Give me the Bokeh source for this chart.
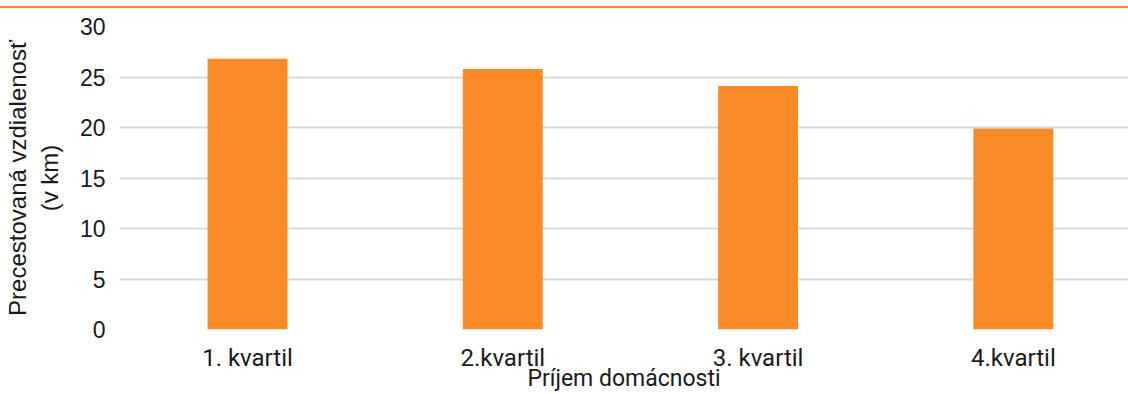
from bokeh.plotting import figure
from bokeh.models import Range1d, FixedTicker, Div, ColumnDataSource
from bokeh.layouts import column
from bokeh.embed import file_html
from bokeh.resources import INLINE

categories = ["1. kvartil", "2.kvartil", "3. kvartil", "4.kvartil"]
values = [26.8, 25.8, 24.1, 19.9]
y_ticks = [0, 5, 10, 15, 20, 25, 30]
x_title = "Príjem domácnosti"
y_title = "Precestovaná vzdialenosť\n(v km)"

ORANGE = "#F98A26"
TEXT = "#1a1a1a"

xs = list(range(len(categories)))
src = ColumnDataSource(dict(x=xs, top=values))

p = figure(width=1128, height=386, output_backend="svg", toolbar_location=None,
           x_range=Range1d(-0.5014, 3.451), y_range=Range1d(0, 30))
p.min_border_top = 18
p.min_border_bottom = 65
p.min_border_left = 119
p.min_border_right = 0
p.outline_line_color = None
p.background_fill_color = "white"
p.border_fill_color = "white"

p.vbar(x="x", top="top", width=0.313, source=src, fill_color=ORANGE, line_color=None)

p.xgrid.grid_line_color = None
p.ygrid.grid_line_color = "#d9d9d9"
p.ygrid.grid_line_width = 2

p.yaxis.ticker = FixedTicker(ticks=y_ticks)
p.yaxis.axis_line_color = None
p.yaxis.major_tick_line_color = None
p.yaxis.minor_tick_line_color = None
p.yaxis.major_label_text_font = "Liberation Sans"
p.yaxis.major_label_text_font_size = "23px"
p.yaxis.major_label_text_color = TEXT
p.yaxis.major_label_standoff = 8
p.yaxis.axis_label = y_title
p.yaxis.axis_label_text_font = "Liberation Sans"
p.yaxis.axis_label_text_font_size = "24px"
p.yaxis.axis_label_text_font_style = "normal"
p.yaxis.axis_label_text_color = TEXT
p.yaxis.axis_label_standoff = 14

p.xaxis.ticker = FixedTicker(ticks=xs)
p.xaxis.major_label_overrides = {i: c for i, c in enumerate(categories)}
p.xaxis.axis_line_color = None
p.xaxis.major_tick_line_color = None
p.xaxis.minor_tick_line_color = None
p.xaxis.major_label_text_font = "Roboto"
p.xaxis.major_label_text_font_size = "24px"
p.xaxis.major_label_text_color = TEXT
p.xaxis.major_label_standoff = 8
p.xaxis.axis_label = x_title
p.xaxis.axis_label_text_font = "Roboto"
p.xaxis.axis_label_text_font_size = "23px"
p.xaxis.axis_label_text_font_style = "normal"
p.xaxis.axis_label_text_color = TEXT
p.xaxis.axis_label_standoff = -10

top_line = Div(text="", width=1128, height=2, margin=(6, 0, 0, 0),
               styles={"background-color": ORANGE})

layout = column(top_line, p, spacing=0)

open("out.html", "w").write(file_html(layout, INLINE))
